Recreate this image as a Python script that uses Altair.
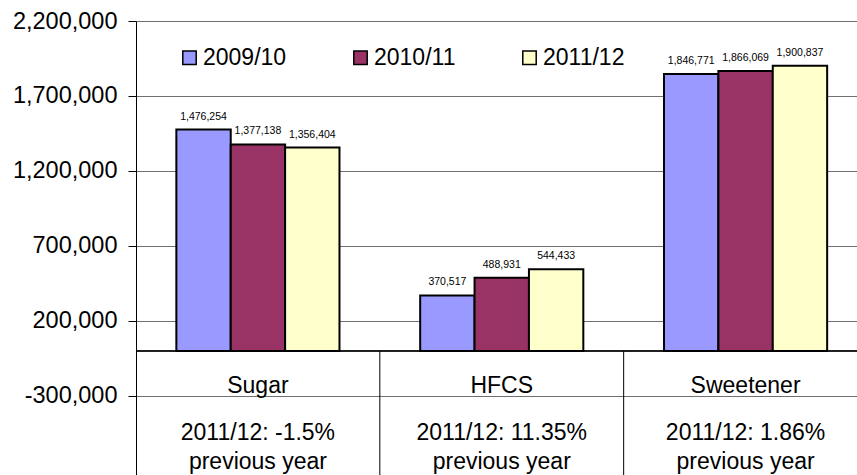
import altair as alt
import pandas as pd

categories = ["Sugar", "HFCS", "Sweetener"]
years = ["2009/10", "2010/11", "2011/12"]
sugar = [1476254, 1377138, 1356404]
hfcs = [370517, 488931, 544433]
sweetener = [1846771, 1866069, 1900837]
changes = ["2011/12: -1.5%", "2011/12: 11.35%", "2011/12: 1.86%"]
note = "previous year"
y_ticks = [-300000, 200000, 700000, 1200000, 1700000, 2200000]
colors = ["#9999FF", "#993366", "#FFFFCC"]

rows = []
for cat, vals in zip(categories, [sugar, hfcs, sweetener]):
    for yr, v in zip(years, vals):
        rows.append({"category": cat, "year": yr, "value": v})
df = pd.DataFrame(rows)
cat_df = pd.DataFrame({"category": categories, "change": changes, "note": [note] * len(categories)})
sep_df = pd.DataFrame({"category": categories[1:]})

FONT = "Liberation Sans"
W, H = 721, 454
xscale = alt.Scale(domain=categories, range=[0, 731.5], paddingInner=0, paddingOuter=0)
yscale = alt.Scale(domain=[-826667, 2200000], nice=False, zero=False)
xoff = alt.XOffset("year:N", scale=alt.Scale(domain=years, paddingOuter=0.742, paddingInner=0))


def xenc(**kw):
    return alt.X("category:N", scale=xscale, axis=None, **kw)


bars = alt.Chart(df).mark_bar(stroke="black", strokeWidth=2).encode(
    x=xenc(),
    xOffset=xoff,
    y=alt.Y(
        "value:Q",
        scale=yscale,
        title=None,
        axis=alt.Axis(
            values=y_ticks,
            labelExpr="datum.value < 0 ? '-' + format(-datum.value, ',') : format(datum.value, ',')",
            labelFontSize=23.5,
            labelFont=FONT,
            labelColor="black",
            labelPadding=11,
            tickSize=8,
            tickColor="black",
            domainColor="black",
            gridColor="#707070",
            gridWidth=1,
        ),
    ),
    color=alt.Color(
        "year:N",
        title=None,
        scale=alt.Scale(domain=years, range=colors),
        legend=alt.Legend(
            orient="none",
            legendX=42,
            legendY=25,
            direction="horizontal",
            symbolType="square",
            symbolSize=180,
            symbolStrokeColor="black",
            symbolStrokeWidth=1.5,
            labelFontSize=23,
            labelFont=FONT,
            labelColor="black",
            labelOffset=2,
            columnPadding=62,
            padding=0,
        ),
    ),
)

labels = alt.Chart(df).mark_text(fontSize=10.5, font=FONT, dy=-10, baseline="alphabetic", color="black").encode(
    x=xenc(),
    xOffset=xoff,
    y=alt.Y("value:Q", scale=yscale),
    text=alt.Text("value:Q", format=","),
)

zero_line = alt.Chart(cat_df).mark_rule(color="black", strokeWidth=1).encode(
    y=alt.datum(0), x=alt.value(0), x2=alt.value(W)
)

seps = alt.Chart(sep_df).mark_rule(color="black", strokeWidth=1).encode(
    x=xenc(bandPosition=0), y=alt.datum(0), y2=alt.value(H)
)

cat_text = alt.Chart(cat_df).mark_text(fontSize=23, font=FONT, baseline="alphabetic", color="black").encode(
    x=xenc(), y=alt.value(372), text="category:N"
)
change_text = alt.Chart(cat_df).mark_text(fontSize=23, font=FONT, baseline="alphabetic", color="black").encode(
    x=xenc(), y=alt.value(419), text="change:N"
)
note_text = alt.Chart(cat_df).mark_text(fontSize=23, font=FONT, baseline="alphabetic", color="black").encode(
    x=xenc(), y=alt.value(448), text="note:N"
)

chart = alt.layer(bars, labels, zero_line, seps, cat_text, change_text, note_text).properties(
    width=W,
    height=H,
    autosize=alt.AutoSizeParams(type="none"),
    padding={"left": 136, "top": 21, "right": 0, "bottom": 0},
    background="white",
).configure_view(stroke="transparent")

chart.save("out.html", embed_options={"renderer": "svg", "actions": False})
